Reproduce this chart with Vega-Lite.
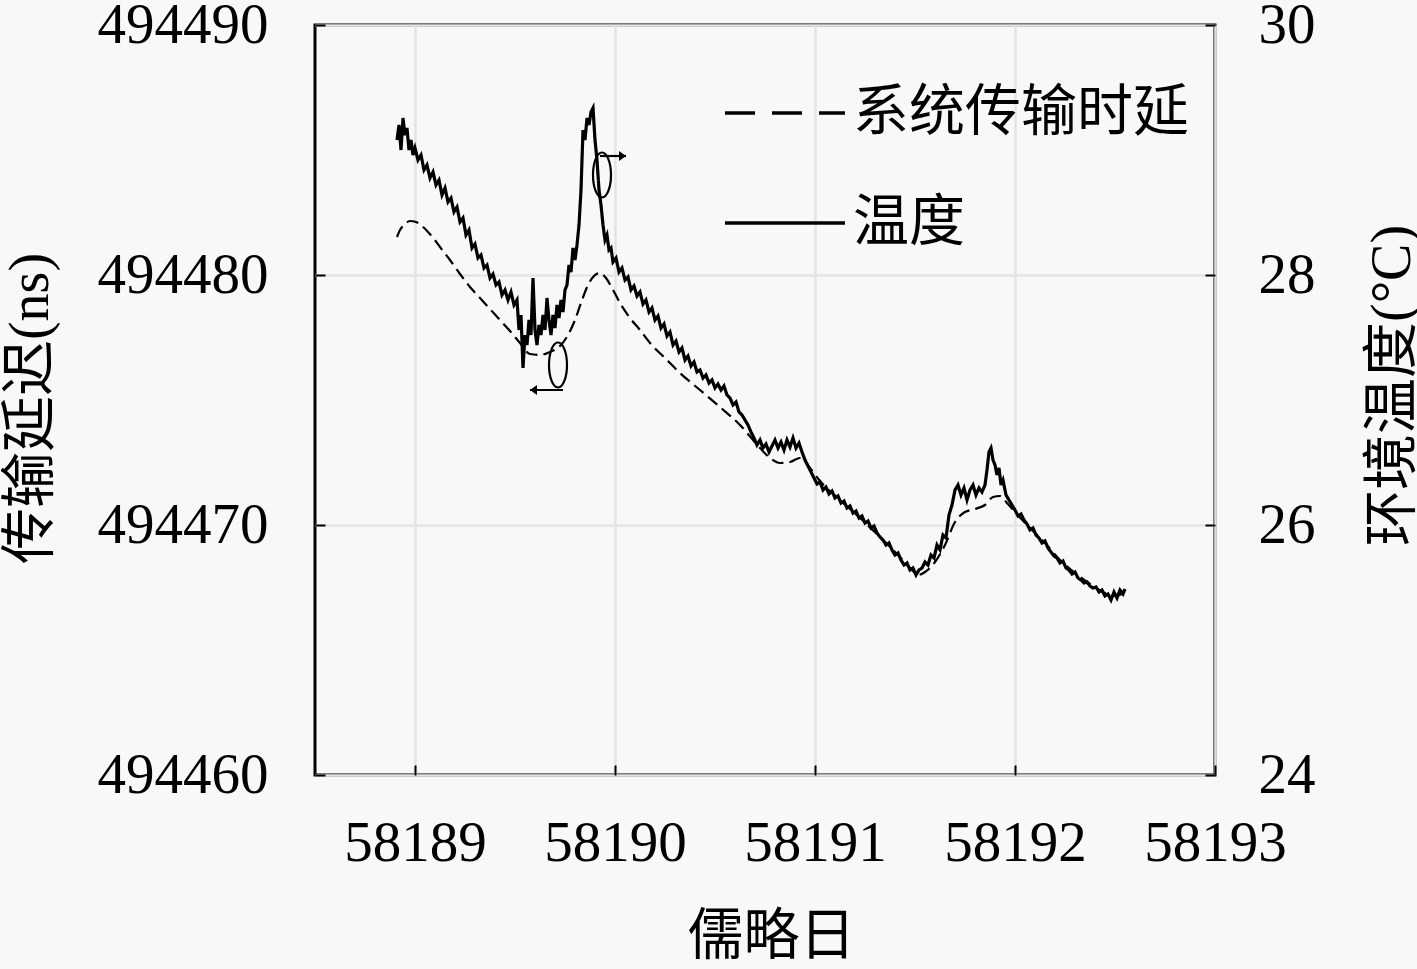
{
  "$schema": "https://vega.github.io/schema/vega-lite/v6.json",
  "autosize": "none",
  "width": 900,
  "height": 750,
  "padding": {"left": 315, "top": 25, "right": 202, "bottom": 194},
  "background": "#f8f8f8",
  "config": {
    "view": {"stroke": "black", "strokeWidth": 3},
    "font": "Liberation Serif, Noto Sans CJK SC",
    "axis": {
      "domain": false,
      "labelFont": "Liberation Serif, Noto Sans CJK SC",
      "labelFontSize": 57,
      "labelColor": "black",
      "labelOverlap": false,
      "labelFlush": false,
      "titleFont": "Liberation Serif, Noto Sans CJK SC",
      "titleFontSize": 56,
      "titleFontWeight": "normal",
      "titleColor": "black",
      "tickColor": "black",
      "tickWidth": 2,
      "tickSize": -10,
      "gridColor": "#e4e4e4",
      "gridWidth": 2.5
    },
    "legend": {
      "orient": "none",
      "legendX": 408,
      "legendY": 26,
      "symbolType": "stroke",
      "symbolSize": 14400,
      "symbolStrokeWidth": 3.6,
      "symbolStrokeColor": "black",
      "labelFont": "Noto Sans CJK SC",
      "labelFontSize": 56,
      "labelColor": "black",
      "labelLimit": 0,
      "labelOffset": 6,
      "rowPadding": 20,
      "padding": 0
    }
  },
  "encoding": {
    "x": {
      "field": "mjd",
      "type": "quantitative",
      "scale": {"domain": [58188.5, 58193], "nice": false, "zero": false},
      "axis": {
        "title": "儒略日",
        "values": [58189, 58189.5, 58190, 58190.5, 58191, 58191.5, 58192, 58192.5, 58193],
        "format": "d",
        "labelExpr": "datum.value % 1 === 0 ? datum.label : ''",
        "labelPadding": 50,
        "labelBaseline": "top",
        "grid": true,
        "titleX": 456,
        "titleY": 161,
        "titleAlign": "center",
        "titleBaseline": "middle"
      }
    }
  },
  "layer": [
    {
      "data": {"values": [
        {"mjd": 58188.910, "d": 494481.52}, {"mjd": 58188.925, "d": 494481.80}, {"mjd": 58188.945, "d": 494482.00},
        {"mjd": 58188.975, "d": 494482.16}, {"mjd": 58189.005, "d": 494482.12}, {"mjd": 58189.035, "d": 494481.96},
        {"mjd": 58189.065, "d": 494481.72}, {"mjd": 58189.095, "d": 494481.44}, {"mjd": 58189.125, "d": 494481.12},
        {"mjd": 58189.175, "d": 494480.60}, {"mjd": 58189.225, "d": 494480.04}, {"mjd": 58189.275, "d": 494479.52},
        {"mjd": 58189.325, "d": 494479.08}, {"mjd": 58189.375, "d": 494478.64}, {"mjd": 58189.425, "d": 494478.20},
        {"mjd": 58189.475, "d": 494477.76}, {"mjd": 58189.525, "d": 494477.28}, {"mjd": 58189.575, "d": 494476.84},
        {"mjd": 58189.625, "d": 494476.80}, {"mjd": 58189.675, "d": 494476.92}, {"mjd": 58189.725, "d": 494477.16},
        {"mjd": 58189.765, "d": 494477.60}, {"mjd": 58189.800, "d": 494478.20}, {"mjd": 58189.835, "d": 494479.00},
        {"mjd": 58189.865, "d": 494479.60}, {"mjd": 58189.895, "d": 494479.96}, {"mjd": 58189.925, "d": 494480.08},
        {"mjd": 58189.955, "d": 494479.88}, {"mjd": 58189.985, "d": 494479.48}, {"mjd": 58190.025, "d": 494478.88},
        {"mjd": 58190.075, "d": 494478.28}, {"mjd": 58190.125, "d": 494477.80}, {"mjd": 58190.175, "d": 494477.28},
        {"mjd": 58190.250, "d": 494476.68}, {"mjd": 58190.325, "d": 494476.08}, {"mjd": 58190.425, "d": 494475.40},
        {"mjd": 58190.525, "d": 494474.72}, {"mjd": 58190.625, "d": 494474.00}, {"mjd": 58190.725, "d": 494473.08},
        {"mjd": 58190.775, "d": 494472.68}, {"mjd": 58190.825, "d": 494472.48}, {"mjd": 58190.875, "d": 494472.52},
        {"mjd": 58190.925, "d": 494472.68}, {"mjd": 58190.975, "d": 494472.28}, {"mjd": 58191.025, "d": 494471.76},
        {"mjd": 58191.125, "d": 494471.00}, {"mjd": 58191.225, "d": 494470.28}, {"mjd": 58191.325, "d": 494469.52},
        {"mjd": 58191.425, "d": 494468.72}, {"mjd": 58191.485, "d": 494468.20}, {"mjd": 58191.515, "d": 494468.00},
        {"mjd": 58191.550, "d": 494468.12}, {"mjd": 58191.600, "d": 494468.52}, {"mjd": 58191.650, "d": 494469.20},
        {"mjd": 58191.700, "d": 494470.12}, {"mjd": 58191.750, "d": 494470.52}, {"mjd": 58191.800, "d": 494470.64},
        {"mjd": 58191.850, "d": 494470.80}, {"mjd": 58191.890, "d": 494471.12}, {"mjd": 58191.925, "d": 494471.16},
        {"mjd": 58191.960, "d": 494470.88}, {"mjd": 58192.000, "d": 494470.52}, {"mjd": 58192.075, "d": 494469.88},
        {"mjd": 58192.150, "d": 494469.28}, {"mjd": 58192.225, "d": 494468.60}, {"mjd": 58192.300, "d": 494468.08},
        {"mjd": 58192.375, "d": 494467.64}, {"mjd": 58192.450, "d": 494467.28}, {"mjd": 58192.500, "d": 494467.16},
        {"mjd": 58192.550, "d": 494467.32}
      ]},
      "mark": {"type": "line", "color": "black", "strokeWidth": 2.2, "interpolate": "monotone"},
      "encoding": {
        "y": {
          "field": "d",
          "type": "quantitative",
          "scale": {"domain": [494460, 494490], "nice": false, "zero": false},
          "axis": {
            "orient": "left",
            "title": "传输延迟(ns)",
            "values": [494460, 494470, 494480, 494490],
            "format": "d",
            "labelPadding": 57,
            "grid": true,
            "titleX": -285,
            "titleY": 383,
            "titleAngle": -90,
            "titleAlign": "center",
            "titleBaseline": "middle"
          }
        },
        "strokeDash": {"value": [12, 6]}
      }
    },
    {
      "encoding": {
        "y": {
          "field": "t",
          "type": "quantitative",
          "scale": {"domain": [24, 30], "nice": false, "zero": false},
          "axis": {
            "orient": "right",
            "title": "环境温度(°C)",
            "values": [24, 26, 28, 30],
            "format": "d",
            "labelPadding": 53,
            "grid": false,
            "titleX": 177,
            "titleY": 360,
            "titleAngle": -90,
            "titleAlign": "center",
            "titleBaseline": "middle"
          }
        }
      },
      "layer": [
        {
          "data": {"values": [
            {"mjd": 58188.910, "t": 29.080}, {"mjd": 58188.920, "t": 29.200}, {"mjd": 58188.930, "t": 29.000}, {"mjd": 58188.940, "t": 29.256},
            {"mjd": 58188.950, "t": 29.120}, {"mjd": 58188.960, "t": 29.176}, {"mjd": 58188.970, "t": 29.000}, {"mjd": 58188.980, "t": 29.080},
            {"mjd": 58188.990, "t": 28.960}, {"mjd": 58189.000, "t": 29.016}, {"mjd": 58189.015, "t": 28.920}, {"mjd": 58189.030, "t": 28.960},
            {"mjd": 58189.045, "t": 28.840}, {"mjd": 58189.060, "t": 28.880}, {"mjd": 58189.075, "t": 28.776}, {"mjd": 58189.090, "t": 28.824},
            {"mjd": 58189.105, "t": 28.720}, {"mjd": 58189.120, "t": 28.760}, {"mjd": 58189.135, "t": 28.640}, {"mjd": 58189.150, "t": 28.696},
            {"mjd": 58189.165, "t": 28.584}, {"mjd": 58189.180, "t": 28.616}, {"mjd": 58189.195, "t": 28.504}, {"mjd": 58189.210, "t": 28.544},
            {"mjd": 58189.225, "t": 28.424}, {"mjd": 58189.240, "t": 28.456}, {"mjd": 58189.255, "t": 28.320}, {"mjd": 58189.270, "t": 28.360},
            {"mjd": 58189.285, "t": 28.216}, {"mjd": 58189.300, "t": 28.248}, {"mjd": 58189.315, "t": 28.136}, {"mjd": 58189.330, "t": 28.160},
            {"mjd": 58189.345, "t": 28.056}, {"mjd": 58189.360, "t": 28.080}, {"mjd": 58189.375, "t": 27.976}, {"mjd": 58189.390, "t": 28.008},
            {"mjd": 58189.405, "t": 27.920}, {"mjd": 58189.420, "t": 27.944}, {"mjd": 58189.435, "t": 27.840}, {"mjd": 58189.450, "t": 27.880},
            {"mjd": 58189.465, "t": 27.800}, {"mjd": 58189.480, "t": 27.864}, {"mjd": 58189.495, "t": 27.760}, {"mjd": 58189.510, "t": 27.800},
            {"mjd": 58189.520, "t": 27.560}, {"mjd": 58189.530, "t": 27.680}, {"mjd": 58189.540, "t": 27.256}, {"mjd": 58189.550, "t": 27.520},
            {"mjd": 58189.560, "t": 27.440}, {"mjd": 58189.570, "t": 27.640}, {"mjd": 58189.580, "t": 27.520}, {"mjd": 58189.590, "t": 27.976},
            {"mjd": 58189.600, "t": 27.560}, {"mjd": 58189.610, "t": 27.440}, {"mjd": 58189.620, "t": 27.600}, {"mjd": 58189.630, "t": 27.520},
            {"mjd": 58189.640, "t": 27.680}, {"mjd": 58189.650, "t": 27.560}, {"mjd": 58189.660, "t": 27.816}, {"mjd": 58189.670, "t": 27.640},
            {"mjd": 58189.680, "t": 27.520}, {"mjd": 58189.690, "t": 27.680}, {"mjd": 58189.700, "t": 27.576}, {"mjd": 58189.710, "t": 27.760},
            {"mjd": 58189.720, "t": 27.656}, {"mjd": 58189.730, "t": 27.800}, {"mjd": 58189.740, "t": 27.704}, {"mjd": 58189.750, "t": 27.880},
            {"mjd": 58189.760, "t": 27.920}, {"mjd": 58189.770, "t": 28.080}, {"mjd": 58189.780, "t": 28.024}, {"mjd": 58189.790, "t": 28.216},
            {"mjd": 58189.800, "t": 28.120}, {"mjd": 58189.810, "t": 28.240}, {"mjd": 58189.820, "t": 28.400}, {"mjd": 58189.830, "t": 28.680},
            {"mjd": 58189.840, "t": 29.160}, {"mjd": 58189.850, "t": 29.080}, {"mjd": 58189.860, "t": 29.256}, {"mjd": 58189.870, "t": 29.200},
            {"mjd": 58189.880, "t": 29.304}, {"mjd": 58189.890, "t": 29.336}, {"mjd": 58189.900, "t": 29.080}, {"mjd": 58189.910, "t": 28.920},
            {"mjd": 58189.920, "t": 28.680}, {"mjd": 58189.930, "t": 28.560}, {"mjd": 58189.940, "t": 28.400}, {"mjd": 58189.950, "t": 28.280},
            {"mjd": 58189.960, "t": 28.320}, {"mjd": 58189.970, "t": 28.200}, {"mjd": 58189.980, "t": 28.216}, {"mjd": 58189.990, "t": 28.104},
            {"mjd": 58190.005, "t": 28.136}, {"mjd": 58190.020, "t": 28.024}, {"mjd": 58190.035, "t": 28.056}, {"mjd": 58190.050, "t": 27.960},
            {"mjd": 58190.065, "t": 27.984}, {"mjd": 58190.080, "t": 27.880}, {"mjd": 58190.095, "t": 27.912}, {"mjd": 58190.110, "t": 27.832},
            {"mjd": 58190.125, "t": 27.864}, {"mjd": 58190.140, "t": 27.768}, {"mjd": 58190.155, "t": 27.800}, {"mjd": 58190.170, "t": 27.704},
            {"mjd": 58190.185, "t": 27.736}, {"mjd": 58190.200, "t": 27.640}, {"mjd": 58190.215, "t": 27.672}, {"mjd": 58190.230, "t": 27.576},
            {"mjd": 58190.245, "t": 27.608}, {"mjd": 58190.260, "t": 27.512}, {"mjd": 58190.275, "t": 27.544}, {"mjd": 58190.290, "t": 27.440},
            {"mjd": 58190.305, "t": 27.472}, {"mjd": 58190.320, "t": 27.384}, {"mjd": 58190.335, "t": 27.416}, {"mjd": 58190.350, "t": 27.320},
            {"mjd": 58190.365, "t": 27.352}, {"mjd": 58190.380, "t": 27.272}, {"mjd": 58190.395, "t": 27.304}, {"mjd": 58190.410, "t": 27.224},
            {"mjd": 58190.425, "t": 27.240}, {"mjd": 58190.440, "t": 27.176}, {"mjd": 58190.455, "t": 27.200}, {"mjd": 58190.470, "t": 27.136},
            {"mjd": 58190.485, "t": 27.160}, {"mjd": 58190.500, "t": 27.096}, {"mjd": 58190.515, "t": 27.128}, {"mjd": 58190.530, "t": 27.080},
            {"mjd": 58190.545, "t": 27.112}, {"mjd": 58190.560, "t": 27.040}, {"mjd": 58190.575, "t": 27.016}, {"mjd": 58190.590, "t": 26.960},
            {"mjd": 58190.605, "t": 26.984}, {"mjd": 58190.620, "t": 26.904}, {"mjd": 58190.635, "t": 26.880}, {"mjd": 58190.650, "t": 26.840},
            {"mjd": 58190.665, "t": 26.800}, {"mjd": 58190.680, "t": 26.744}, {"mjd": 58190.695, "t": 26.696}, {"mjd": 58190.710, "t": 26.640},
            {"mjd": 58190.725, "t": 26.680}, {"mjd": 58190.740, "t": 26.616}, {"mjd": 58190.755, "t": 26.648}, {"mjd": 58190.770, "t": 26.584},
            {"mjd": 58190.785, "t": 26.632}, {"mjd": 58190.800, "t": 26.680}, {"mjd": 58190.815, "t": 26.616}, {"mjd": 58190.830, "t": 26.664},
            {"mjd": 58190.845, "t": 26.600}, {"mjd": 58190.860, "t": 26.680}, {"mjd": 58190.875, "t": 26.624}, {"mjd": 58190.890, "t": 26.696},
            {"mjd": 58190.905, "t": 26.616}, {"mjd": 58190.920, "t": 26.656}, {"mjd": 58190.935, "t": 26.584}, {"mjd": 58190.950, "t": 26.520},
            {"mjd": 58190.965, "t": 26.472}, {"mjd": 58190.980, "t": 26.424}, {"mjd": 58190.995, "t": 26.376}, {"mjd": 58191.010, "t": 26.328},
            {"mjd": 58191.025, "t": 26.344}, {"mjd": 58191.040, "t": 26.280}, {"mjd": 58191.055, "t": 26.304}, {"mjd": 58191.070, "t": 26.248},
            {"mjd": 58191.085, "t": 26.272}, {"mjd": 58191.100, "t": 26.216}, {"mjd": 58191.115, "t": 26.232}, {"mjd": 58191.130, "t": 26.176},
            {"mjd": 58191.145, "t": 26.192}, {"mjd": 58191.160, "t": 26.136}, {"mjd": 58191.175, "t": 26.152}, {"mjd": 58191.190, "t": 26.096},
            {"mjd": 58191.205, "t": 26.112}, {"mjd": 58191.220, "t": 26.056}, {"mjd": 58191.235, "t": 26.072}, {"mjd": 58191.250, "t": 26.016},
            {"mjd": 58191.265, "t": 26.032}, {"mjd": 58191.280, "t": 25.976}, {"mjd": 58191.295, "t": 25.992}, {"mjd": 58191.310, "t": 25.936},
            {"mjd": 58191.325, "t": 25.904}, {"mjd": 58191.340, "t": 25.880}, {"mjd": 58191.355, "t": 25.840}, {"mjd": 58191.370, "t": 25.856},
            {"mjd": 58191.385, "t": 25.800}, {"mjd": 58191.400, "t": 25.760}, {"mjd": 58191.415, "t": 25.776}, {"mjd": 58191.430, "t": 25.720},
            {"mjd": 58191.445, "t": 25.680}, {"mjd": 58191.460, "t": 25.696}, {"mjd": 58191.475, "t": 25.640}, {"mjd": 58191.490, "t": 25.656},
            {"mjd": 58191.505, "t": 25.600}, {"mjd": 58191.520, "t": 25.640}, {"mjd": 58191.535, "t": 25.656}, {"mjd": 58191.550, "t": 25.704},
            {"mjd": 58191.565, "t": 25.680}, {"mjd": 58191.580, "t": 25.760}, {"mjd": 58191.595, "t": 25.736}, {"mjd": 58191.610, "t": 25.840},
            {"mjd": 58191.625, "t": 25.800}, {"mjd": 58191.640, "t": 25.920}, {"mjd": 58191.655, "t": 25.896}, {"mjd": 58191.670, "t": 26.080},
            {"mjd": 58191.685, "t": 26.160}, {"mjd": 58191.700, "t": 26.280}, {"mjd": 58191.715, "t": 26.320}, {"mjd": 58191.730, "t": 26.240},
            {"mjd": 58191.745, "t": 26.296}, {"mjd": 58191.760, "t": 26.200}, {"mjd": 58191.775, "t": 26.280}, {"mjd": 58191.790, "t": 26.320},
            {"mjd": 58191.805, "t": 26.240}, {"mjd": 58191.820, "t": 26.296}, {"mjd": 58191.835, "t": 26.264}, {"mjd": 58191.850, "t": 26.320},
            {"mjd": 58191.860, "t": 26.440}, {"mjd": 58191.870, "t": 26.584}, {"mjd": 58191.880, "t": 26.616}, {"mjd": 58191.890, "t": 26.520},
            {"mjd": 58191.900, "t": 26.480}, {"mjd": 58191.910, "t": 26.400}, {"mjd": 58191.920, "t": 26.456}, {"mjd": 58191.930, "t": 26.320},
            {"mjd": 58191.940, "t": 26.360}, {"mjd": 58191.955, "t": 26.240}, {"mjd": 58191.970, "t": 26.200}, {"mjd": 58191.985, "t": 26.160},
            {"mjd": 58192.000, "t": 26.120}, {"mjd": 58192.015, "t": 26.072}, {"mjd": 58192.030, "t": 26.088}, {"mjd": 58192.045, "t": 26.040},
            {"mjd": 58192.060, "t": 26.008}, {"mjd": 58192.075, "t": 25.960}, {"mjd": 58192.090, "t": 25.976}, {"mjd": 58192.105, "t": 25.920},
            {"mjd": 58192.120, "t": 25.896}, {"mjd": 58192.135, "t": 25.856}, {"mjd": 58192.150, "t": 25.872}, {"mjd": 58192.165, "t": 25.816},
            {"mjd": 58192.180, "t": 25.784}, {"mjd": 58192.195, "t": 25.752}, {"mjd": 58192.210, "t": 25.736}, {"mjd": 58192.225, "t": 25.696},
            {"mjd": 58192.240, "t": 25.712}, {"mjd": 58192.255, "t": 25.656}, {"mjd": 58192.270, "t": 25.640}, {"mjd": 58192.285, "t": 25.608},
            {"mjd": 58192.300, "t": 25.624}, {"mjd": 58192.315, "t": 25.576}, {"mjd": 58192.330, "t": 25.560}, {"mjd": 58192.345, "t": 25.536},
            {"mjd": 58192.360, "t": 25.544}, {"mjd": 58192.375, "t": 25.512}, {"mjd": 58192.390, "t": 25.496}, {"mjd": 58192.405, "t": 25.504},
            {"mjd": 58192.420, "t": 25.464}, {"mjd": 58192.435, "t": 25.480}, {"mjd": 58192.450, "t": 25.432}, {"mjd": 58192.465, "t": 25.448},
            {"mjd": 58192.480, "t": 25.400}, {"mjd": 58192.495, "t": 25.464}, {"mjd": 58192.510, "t": 25.416}, {"mjd": 58192.525, "t": 25.480},
            {"mjd": 58192.540, "t": 25.448}, {"mjd": 58192.550, "t": 25.488}
          ]},
          "mark": {"type": "line", "color": "black", "strokeWidth": 3.2},
          "encoding": {
            "strokeDash": {
              "datum": "温度",
              "type": "nominal",
              "scale": {"domain": ["系统传输时延", "温度"], "range": [[30, 17], [1, 0]]},
              "legend": {"title": null}
            }
          }
        },
        {
          "data": {"values": [
            {"mjd": 58189.935, "t": 28.80},
            {"mjd": 58189.715, "t": 27.28}
          ]},
          "mark": {
            "type": "point",
            "shape": "M0,-1A0.4,1,0,1,1,0,1A0.4,1,0,1,1,0,-1",
            "size": 2025,
            "filled": false,
            "color": "black",
            "strokeWidth": 2.2,
            "opacity": 1
          },
          "encoding": {}
        },
        {
          "data": {"values": [
            {"mjd": 58189.925, "t": 28.952, "g": "a"},
            {"mjd": 58190.055, "t": 28.952, "g": "a"},
            {"mjd": 58189.740, "t": 27.080, "g": "b"},
            {"mjd": 58189.575, "t": 27.080, "g": "b"}
          ]},
          "mark": {"type": "line", "color": "black", "strokeWidth": 2.2},
          "encoding": {"detail": {"field": "g", "type": "nominal"}}
        },
        {
          "data": {"values": [
            {"mjd": 58190.055, "t": 28.952, "s": "M-1,-0.7L0,0L-1,0.7Z"},
            {"mjd": 58189.575, "t": 27.080, "s": "M1,-0.7L0,0L1,0.7Z"}
          ]},
          "mark": {"type": "point", "filled": true, "color": "black", "strokeWidth": 1, "size": 196, "opacity": 1},
          "encoding": {"shape": {"field": "s", "type": "nominal", "scale": null, "legend": null}}
        }
      ]
    }
  ],
  "resolve": {"scale": {"y": "independent"}}
}
